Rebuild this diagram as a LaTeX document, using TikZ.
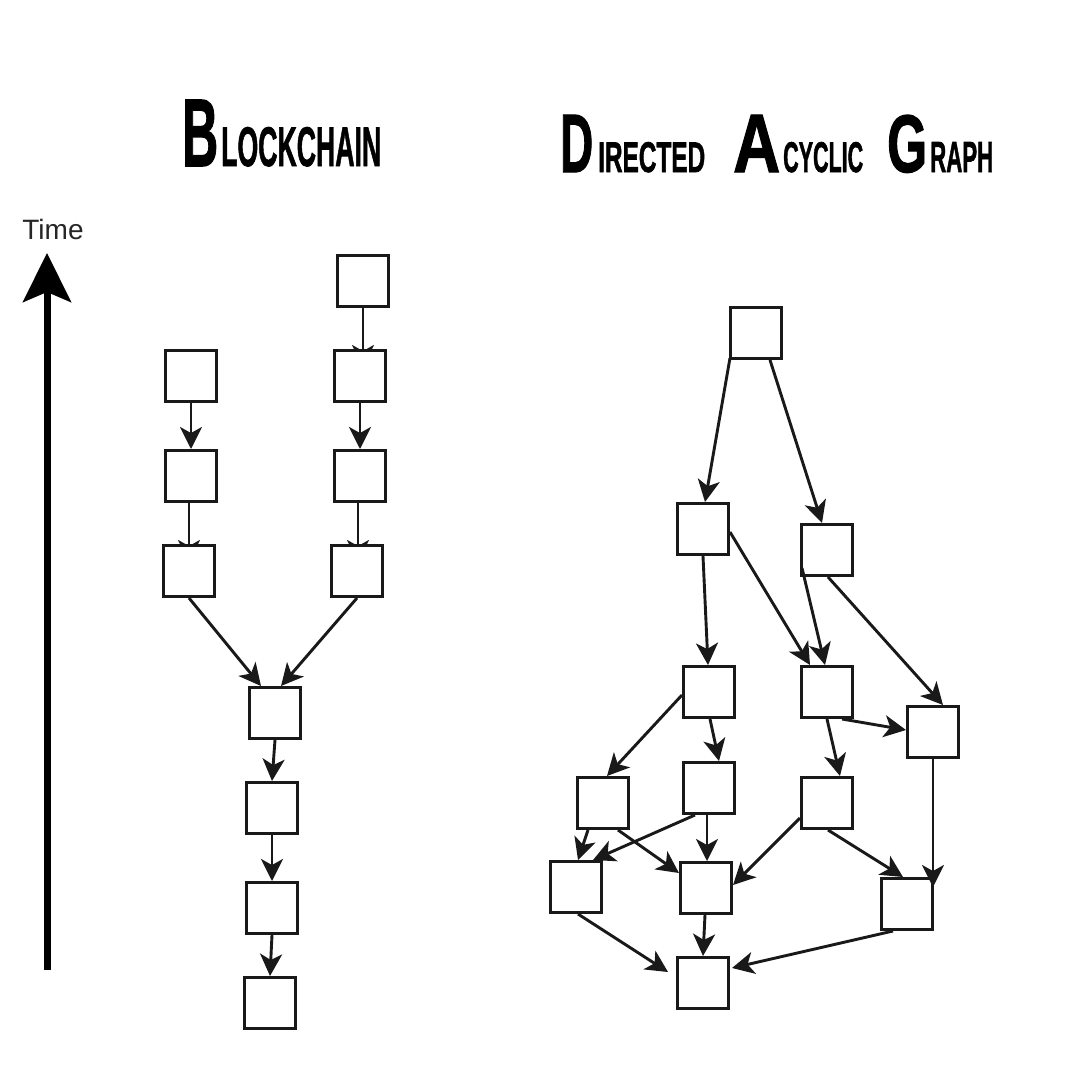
\documentclass[tikz,border=0pt]{standalone}
\usepackage{graphicx}
\usepackage{fontspec}
\setmainfont{Liberation Sans}
\newfontfamily\titlefont{Liberation Sans}[BoldFeatures={FakeBold=1.6}]
\usetikzlibrary{arrows.meta,backgrounds,calc}
\tikzset{
  blk/.style={draw=black!90, fill=white, line width=3pt, minimum size=51pt, inner sep=0pt},
  edge/.style={line width=2.9pt, draw=black!90, -{Stealth[length=22pt,width=22pt,inset=6pt]}},
  title/.style={inner sep=0pt, anchor=base west}
}
\newcommand{\tbox}[3]{\resizebox{#1pt}{#2pt}{\titlefont\bfseries #3}}
\begin{document}
\begin{tikzpicture}[x=1pt,y=-1pt]
\useasboundingbox (0,0) rectangle (1080,1080);

% titles
\node[title] (tB) at (182,166) {\tbox{36}{66}{B}};
\node[title] (tB2) at (221,166) {\tbox{160}{39}{LOCKCHAIN}};
\node[title] (tD) at (560,172) {\tbox{33}{57}{D}};
\node[title] (tD2) at (598,172) {\tbox{107}{30}{IRECTED}};
\node[title] (tA) at (733,172) {\tbox{47}{57}{A}};
\node[title] (tA2) at (783,172) {\tbox{80}{30}{CYCLIC}};
\node[title] (tG) at (887,172) {\tbox{40}{57}{G}};
\node[title] (tG2) at (930,172) {\tbox{63}{30}{RAPH}};

% time axis
\node[inner sep=0pt, font=\fontsize{28}{30}\selectfont, text=black!85] (time) at (53,229) {Time};
\coordinate (t0) at (47,970);
\coordinate (t1) at (47,253);
\draw[line width=7pt, -{Stealth[length=49pt,width=48pt,inset=10pt]}] (t0) -- (t1);

% blockchain nodes
\node[blk] (L1) at (191,376) {};
\node[blk] (L2) at (191,476) {};
\node[blk] (L3) at (189,571) {};
\node[blk] (R0) at (363,281) {};
\node[blk] (R1) at (360,376) {};
\node[blk] (R2) at (360,476) {};
\node[blk] (R3) at (357,571) {};
\node[blk] (M1) at (275,713) {};
\node[blk] (M2) at (272,808) {};
\node[blk] (M3) at (272,908) {};
\node[blk] (M4) at (270,1003) {};

\begin{scope}[on background layer]
\fill[white] (0,0) rectangle (1080,1080);
\draw[edge] ($(L2)+(-2,27)$) -- ($(L3)+(0,-9)$);
\draw[edge] ($(R0)+(0,27)$) -- ($(R1)+(3,-9)$);
\draw[edge] ($(R2)+(-2,27)$) -- ($(R3)+(1,-9)$);
\end{scope}
\draw[edge] ($(L1)+(0,27)$) -- ($(L2)+(0,-27)$);
\draw[edge] ($(R1)+(0,27)$) -- ($(R2)+(0,-27)$);
\draw[edge] ($(L3)+(0,27)$) -- ($(M1)+(-14,-27)$);
\draw[edge] ($(R3)+(0,27)$) -- ($(M1)+(6,-27)$);
\draw[edge] ($(M1)+(0,27)$) -- ($(M2)+(0,-27)$);
\draw[edge] ($(M2)+(0,27)$) -- ($(M3)+(0,-27)$);
\draw[edge] ($(M3)+(0,27)$) -- ($(M4)+(0,-27)$);

% DAG nodes
\node[blk] (T) at (756,333) {};
\node[blk] (A) at (703,529) {};
\node[blk] (B) at (827,550) {};
\node[blk] (C) at (709,692) {};
\node[blk] (D) at (827,692) {};
\node[blk] (E) at (933,732) {};
\node[blk] (F) at (603,803) {};
\node[blk] (G) at (709,788) {};
\node[blk] (H) at (827,803) {};
\node[blk] (I) at (576,887) {};
\node[blk] (J) at (706,888) {};
\node[blk] (K) at (907,904) {};
\node[blk] (Lb) at (703,983) {};

\draw[edge] ($(T)+(-26,25)$) -- ($(A)+(2,-27)$);
\draw[edge] ($(T)+(14,27)$) -- ($(B)+(-5,-27)$);
\draw[edge] ($(A)+(0,27)$) -- ($(C)+(-1,-27)$);
\draw[edge] ($(A)+(27,3)$) -- ($(D)+(-17,-27)$);
\draw[edge] ($(B)+(-25,18)$) -- ($(D)+(-2,-27)$);
\draw[edge] ($(B)+(1,27)$) -- ($(E)+(10,-27)$);
\draw[edge] ($(C)+(-27,3)$) -- ($(F)+(4,-27)$);
\draw[edge] ($(C)+(1,27)$) -- ($(G)+(10,-27)$);
\draw[edge] ($(D)+(15,27)$) -- ($(E)+(-27,-2)$);
\draw[edge] ($(D)+(0,27)$) -- ($(H)+(13,-27)$);
\draw[edge] ($(F)+(-15,27)$) -- ($(I)+(2,-27)$);
\draw[edge] ($(F)+(15,27)$) -- ($(J)+(-27,-15)$);
\draw[edge] ($(G)+(-14,27)$) -- ($(I)+(17,-27)$);
\draw[edge] ($(G)+(-2,27)$) -- ($(J)+(1,-27)$);
\draw[edge] ($(H)+(-27,15)$) -- ($(J)+(27,-3)$);
\draw[edge] ($(H)+(1,27)$) -- ($(K)+(-4,-27)$);
\draw[edge] ($(E)+(0,27)$) -- ($(K)+(26,-17)$);
\draw[edge] ($(I)+(2,27)$) -- ($(Lb)+(-35,-11)$);
\draw[edge] ($(J)+(-1,27)$) -- ($(Lb)+(0,-27)$);
\draw[edge] ($(K)+(-14,27)$) -- ($(Lb)+(29,-15)$);
\end{tikzpicture}
\end{document}
